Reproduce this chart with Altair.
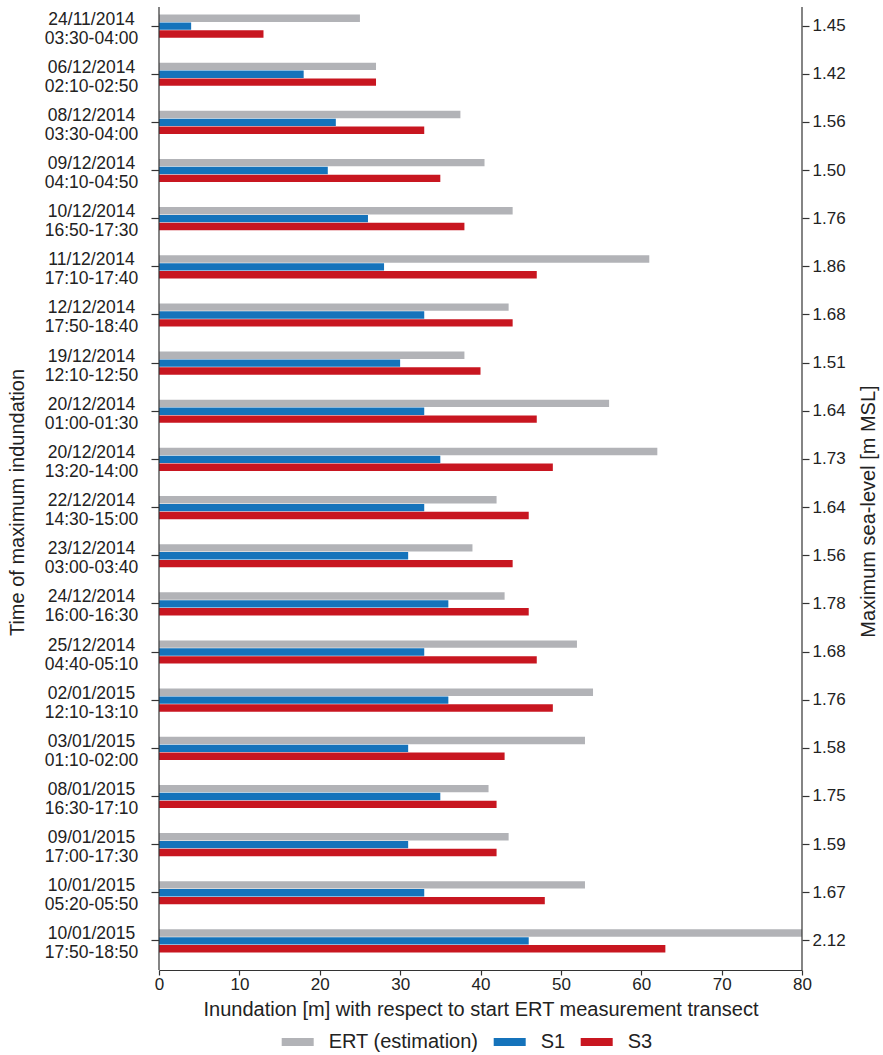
import altair as alt
import pandas as pd

# Storm events: date and time window of maximum inundation
dates = ["24/11/2014", "06/12/2014", "08/12/2014", "09/12/2014", "10/12/2014",
         "11/12/2014", "12/12/2014", "19/12/2014", "20/12/2014", "20/12/2014",
         "22/12/2014", "23/12/2014", "24/12/2014", "25/12/2014", "02/01/2015",
         "03/01/2015", "08/01/2015", "09/01/2015", "10/01/2015", "10/01/2015"]
times = ["03:30-04:00", "02:10-02:50", "03:30-04:00", "04:10-04:50", "16:50-17:30",
         "17:10-17:40", "17:50-18:40", "12:10-12:50", "01:00-01:30", "13:20-14:00",
         "14:30-15:00", "03:00-03:40", "16:00-16:30", "04:40-05:10", "12:10-13:10",
         "01:10-02:00", "16:30-17:10", "17:00-17:30", "05:20-05:50", "17:50-18:50"]
# Maximum sea-level [m MSL] per event
sea_level = ["1.45", "1.42", "1.56", "1.50", "1.76", "1.86", "1.68", "1.51", "1.64", "1.73",
             "1.64", "1.56", "1.78", "1.68", "1.76", "1.58", "1.75", "1.59", "1.67", "2.12"]

# Inundation [m] relative to the start of the ERT transect
ert = [25, 27, 37.5, 40.5, 44, 61, 43.5, 38, 56, 62, 42, 39, 43, 52, 54, 53, 41, 43.5, 53, 80]
s1 = [4, 18, 22, 21, 26, 28, 33, 30, 33, 35, 33, 31, 36, 33, 36, 31, 35, 31, 33, 46]
s3 = [13, 27, 33, 35, 38, 47, 44, 40, 47, 49, 46, 44, 46, 47, 49, 43, 42, 42, 48, 63]

series = ["ERT (estimation)", "S1", "S3"]
colors = ["#b2b3b7", "#1573bb", "#c81620"]

keys = [f"{d}|{t}|{s}" for d, t, s in zip(dates, times, sea_level)]
rows = []
for k, a, b, c in zip(keys, ert, s1, s3):
    for name, v in zip(series, (a, b, c)):
        rows.append({"key": k, "series": name, "value": v})
df = pd.DataFrame(rows)

W, H = 643, 968
FONT = "Liberation Sans, Arial, Helvetica, sans-serif"
AXIS_COLOR = "#333333"
TEXT_COLOR = "#222222"
X_TITLE = "Inundation [m] with respect to start ERT measurement transect"


def band_scale():
    return alt.Scale(type="band", domain=keys, range=[0, 963],
                     paddingInner=0.52, paddingOuter=0.26)


bars = alt.Chart(df).mark_bar(clip=True).encode(
    x=alt.X("value:Q",
            scale=alt.Scale(domain=[0, 80], nice=False, zero=True),
            axis=alt.Axis(values=list(range(0, 81, 10)), title=X_TITLE,
                          domain=True, domainColor=AXIS_COLOR, domainWidth=1.2,
                          tickSize=5, tickColor=AXIS_COLOR, tickWidth=1.2,
                          labelFontSize=17, labelPadding=1, labelFlush=False,
                          titleFontSize=20, titlePadding=7)),
    y=alt.Y("key:N", scale=band_scale(),
            axis=alt.Axis(orient="left", domain=False, tickSize=8,
                          tickColor=AXIS_COLOR, tickWidth=1.2,
                          labelExpr="[split(datum.value, '|')[0], split(datum.value, '|')[1]]",
                          labelAlign="center", labelBaseline="middle",
                          labelPadding=60, labelFontSize=17.5, labelLineHeight=19,
                          labelOffset=-6.5, labelOverlap=False,
                          title="Time of maximum indundation", titleFontSize=20,
                          titleAngle=270, titleX=-141.5, titleY=500,
                          titleAlign="center", titleBaseline="middle")),
    yOffset=alt.YOffset("series:N", sort=series,
                        scale=alt.Scale(domain=series, paddingInner=0.06)),
    color=alt.Color("series:N",
                    scale=alt.Scale(domain=series, range=colors),
                    legend=alt.Legend(title=None, orient="none", legendX=122.7, legendY=1024,
                                      direction="horizontal", columns=3,
                                      symbolType="M-1,-0.25H1V0.25H-1Z", symbolSize=1024,
                                      symbolStrokeWidth=0, labelFontSize=20,
                                      labelOffset=15, columnPadding=15, padding=0,
                                      labelColor=TEXT_COLOR)),
)

# Sea-level labels on the right-hand axis
right = alt.Chart(pd.DataFrame({"key": keys})).mark_point(opacity=0).encode(
    x=alt.value(0),
    y=alt.Y("key:N", scale=band_scale(),
            axis=alt.Axis(orient="right", domain=False, tickSize=7,
                          tickColor=AXIS_COLOR, tickWidth=1.2,
                          labelExpr="split(datum.value, '|')[2]",
                          labelAlign="left", labelBaseline="middle",
                          labelPadding=3, labelFontSize=17, labelOverlap=False,
                          title="Maximum sea-level [m MSL]", titleFontSize=20,
                          titleAngle=270, titleX=66, titleY=509,
                          titleAlign="center", titleBaseline="middle")),
)

# Vertical frame lines at both ends of the inundation range
frame = alt.Chart(pd.DataFrame({"value": [0, 80]})).mark_rule(
    color=AXIS_COLOR, strokeWidth=1.2
).encode(
    x=alt.X("value:Q", title=X_TITLE),
    y=alt.value(5),
    y2=alt.value(H),
)

chart = alt.layer(bars, right, frame).resolve_scale(y="independent").properties(
    width=W, height=H,
    autosize=alt.AutoSizeParams(type="none"),
    padding={"left": 159, "top": 2, "right": 81, "bottom": 85},
).configure(
    font=FONT,
).configure_view(
    stroke=None,
).configure_axis(
    grid=False, labelColor=TEXT_COLOR, titleColor=TEXT_COLOR,
    titleFontWeight="normal", labelFont=FONT, titleFont=FONT,
).configure_legend(
    labelFont=FONT,
)

chart.save("out.html", embed_options={"renderer": "svg", "actions": False})
